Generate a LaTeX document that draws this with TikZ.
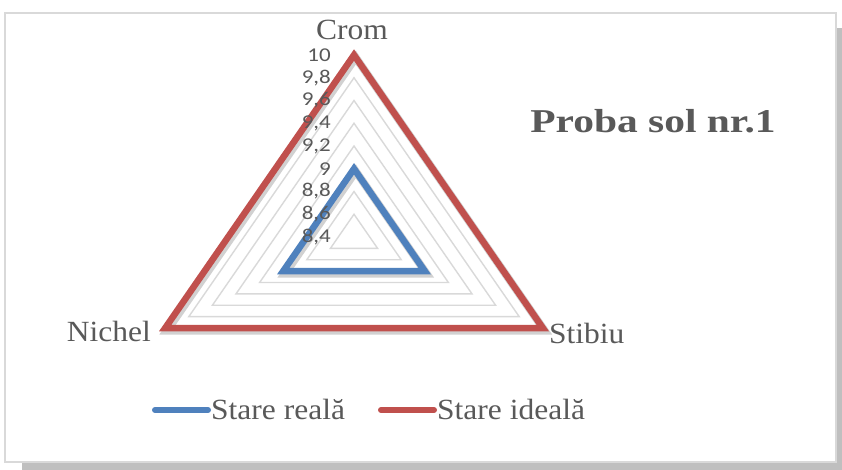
\documentclass[tikz,border=0pt]{standalone}
\usepackage{fontspec}
\setmainfont{Liberation Serif}
\newfontfamily\numfont{Carlito}
\usepackage{graphicx}
\definecolor{serred}{HTML}{C0504D}
\definecolor{serblue}{HTML}{4F81BD}
\definecolor{gridgray}{HTML}{D9D9D9}
\definecolor{txtgray}{HTML}{595959}
\definecolor{shadowgray}{HTML}{BFBFBF}
\definecolor{framegray}{HTML}{D9D9D9}
\tikzset{
  gridline/.style={draw=gridgray, line width=1.4pt},
  serieline/.style={line width=6.5pt, line join=miter},
  serieshadow/.style={draw=black, opacity=0.18, line width=8pt, line join=miter},
  axnum/.style={anchor=east, inner sep=0pt, text=txtgray, font=\numfont\fontsize{23}{23}\selectfont},
  catlabel/.style={inner sep=0pt, text=txtgray, font=\fontsize{31.5}{31.5}\selectfont},
  legline/.style={line width=6pt, line cap=round},
}
\newcommand{\sqz}[1]{\scalebox{1}[0.93]{#1}}
\begin{document}
\begin{tikzpicture}[x=1pt,y=-1pt]
\useasboundingbox (0,0) rectangle (842,470);
% frame with shadow
\fill[shadowgray] (22,28) rectangle (842,470);
\filldraw[fill=white, draw=framegray, line width=1.5pt] (5,13) rectangle (836,462);
% radar
\begin{scope}[shift={(354,237)}, x=218pt, y=182pt]
  \foreach \k in {1,...,7} {
    \draw[gridline] (90:\k/8) -- (210:\k/8) -- (-30:\k/8) -- cycle;
  }
  % shadows
  \draw[serieshadow, shift={(0.008,-0.014)}] (90:1) -- (210:1) -- (-30:1) -- cycle;
  \draw[serieshadow, shift={(0.008,-0.014)}] (90:0.375) -- (210:0.375) -- (-30:0.375) -- cycle;
  % series
  \coordinate (rT) at (90:1);
  \coordinate (rL) at (210:1);
  \coordinate (rR) at (-30:1);
  \coordinate (bT) at (90:0.375);
  \coordinate (bL) at (210:0.375);
  \coordinate (bR) at (-30:0.375);
  \draw[serieline, draw=serred] (rT) -- (rL) -- (rR) -- cycle;
  \draw[serieline, draw=serblue] (bT) -- (bL) -- (bR) -- cycle;
\end{scope}
% axis numbers
\foreach \lab [count=\i from 0] in {8{,}4,8{,}6,8{,}8,9,9{,}2,9{,}4,9{,}6,9{,}8,10} {
  \node[axnum] (n\i) at (331,{237-22.75*\i}) {\scalebox{1}[0.85]{\lab}};
}
% category labels
\node[catlabel] (crom) at (352,30) {\sqz{Crom}};
\node[catlabel, anchor=east] (nichel) at (151,331) {\sqz{Nichel}};
\node[catlabel, anchor=west] (stibiu) at (549,333) {\sqz{Stibiu}};
% title
\node[inner sep=0pt, text=txtgray, font=\bfseries\fontsize{37}{37}\selectfont] (title) at (653,121) {\scalebox{1.12}[0.9]{Proba sol nr.1}};
% legend
\coordinate (lb1) at (155,410);
\coordinate (lb2) at (208,410);
\coordinate (lr1) at (381,410);
\coordinate (lr2) at (434,410);
\draw[legline, draw=serblue] (lb1) -- (lb2);
\draw[legline, draw=serred] (lr1) -- (lr2);
\node[catlabel, anchor=west] (leg1) at (211,409) {\sqz{Stare reală}};
\node[catlabel, anchor=west] (leg2) at (437,409) {\sqz{Stare ideală}};
\end{tikzpicture}
\end{document}
